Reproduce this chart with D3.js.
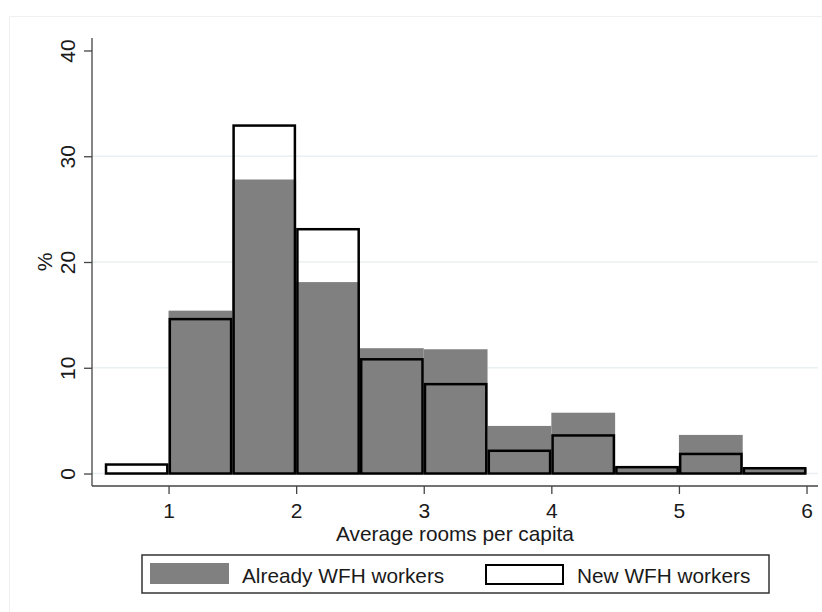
<!DOCTYPE html>
<html><head><meta charset="utf-8">
<script src="https://cdn.jsdelivr.net/npm/d3@7"></script>
<style>body{margin:0;background:#fff}svg{display:block}text{font-family:"Liberation Sans",Arial,sans-serif;fill:#1a1a1a}</style>
</head><body>
<svg id="c" width="822" height="612"></svg>
<script>
const binStarts = [0.5,1,1.5,2,2.5,3,3.5,4,4.5,5,5.5];
const binWidth = 0.5;
const alreadyWFH = [0,15.4,27.8,18.1,11.85,11.75,4.5,5.75,0.55,3.65,0.5];
const newWFH = [0.85,14.6,32.9,23.1,10.8,8.45,2.15,3.6,0.6,1.85,0.5];
const xTicks = [1,2,3,4,5,6];
const yTicks = [0,10,20,30,40];
const gridTicks = [0,10,20,30];
const seriesNames = ["Already WFH workers","New WFH workers"];
const xTitle = "Average rooms per capita";
const yTitle = "%";

const svg = d3.select("#c");
// faint outer frame
svg.append("rect").attr("x",9.5).attr("y",16.5).attr("width",830).attr("height",620)
  .attr("fill","#fff").attr("stroke","#f0f0f0");

const x = d3.scaleLinear().domain([0.4,6.09]).range([92,818]);
const y = d3.scaleLinear().domain([-1.18,41.18]).range([486,38]);

// grid
svg.append("g").selectAll("line").data(gridTicks).join("line")
  .attr("x1",92).attr("x2",818).attr("y1",d=>y(d)).attr("y2",d=>y(d))
  .attr("stroke","#e8f0f1").attr("stroke-width",1.5);

// gray bars
svg.append("g").selectAll("rect").data(binStarts).join("rect")
  .attr("x",d=>x(d)).attr("width",d=>x(d+binWidth)-x(d))
  .attr("y",(d,i)=>y(alreadyWFH[i])).attr("height",(d,i)=>y(0)-y(alreadyWFH[i]))
  .attr("fill","#808080");

// outline bars
svg.append("g").selectAll("rect").data(binStarts).join("rect")
  .attr("x",d=>x(d)+1.25).attr("width",d=>x(d+binWidth)-x(d)-2.5)
  .attr("y",(d,i)=>y(newWFH[i])).attr("height",(d,i)=>y(0)-y(newWFH[i]))
  .attr("fill","none").attr("stroke","#000").attr("stroke-width",2.5);

// axes
const xAxis = svg.append("g").attr("transform","translate(0,486)")
  .call(d3.axisBottom(x).tickValues(xTicks).tickSize(8).tickPadding(9).tickFormat(d3.format("d")));
xAxis.select(".domain").attr("d","M92,0H818");
const yAxis = svg.append("g").attr("transform","translate(92,0)")
  .call(d3.axisLeft(y).tickValues(yTicks).tickSize(8).tickFormat(d3.format("d")));
yAxis.select(".domain").attr("d","M0,38V486");
[xAxis,yAxis].forEach(a=>{
  a.select(".domain").attr("stroke","#444").attr("stroke-width",1.3);
  a.selectAll(".tick line").attr("stroke","#444").attr("stroke-width",1.3);
  a.selectAll("text").style("font-size","21px").attr("fill","#1a1a1a");
});
yAxis.selectAll(".tick text").each(function(d){
  d3.select(this).attr("x",-25).attr("y",0).attr("dy","0")
    .attr("text-anchor","middle").attr("dominant-baseline","central")
    .attr("transform","rotate(-90,-25,0)");
});

// titles
svg.append("text").attr("x",455).attr("y",541).attr("text-anchor","middle")
  .style("font-size","20.8px").text(xTitle);
svg.append("text").attr("transform","translate(52,262) rotate(-90)").attr("text-anchor","middle")
  .style("font-size","21px").text(yTitle);

// legend
const lg = svg.append("g");
lg.append("rect").attr("x",142).attr("y",555).attr("width",627).attr("height",38)
  .attr("fill","#fff").attr("stroke","#333").attr("stroke-width",1.5);
lg.append("rect").attr("x",150).attr("y",563).attr("width",79).attr("height",21).attr("fill","#808080");
lg.append("rect").attr("x",486).attr("y",565).attr("width",77).attr("height",19)
  .attr("fill","#fff").attr("stroke","#000").attr("stroke-width",2);
lg.append("text").attr("x",242).attr("y",583).style("font-size","20.8px").text(seriesNames[0]);
lg.append("text").attr("x",577).attr("y",583).style("font-size","20.8px").text(seriesNames[1]);
</script>
</body></html>
